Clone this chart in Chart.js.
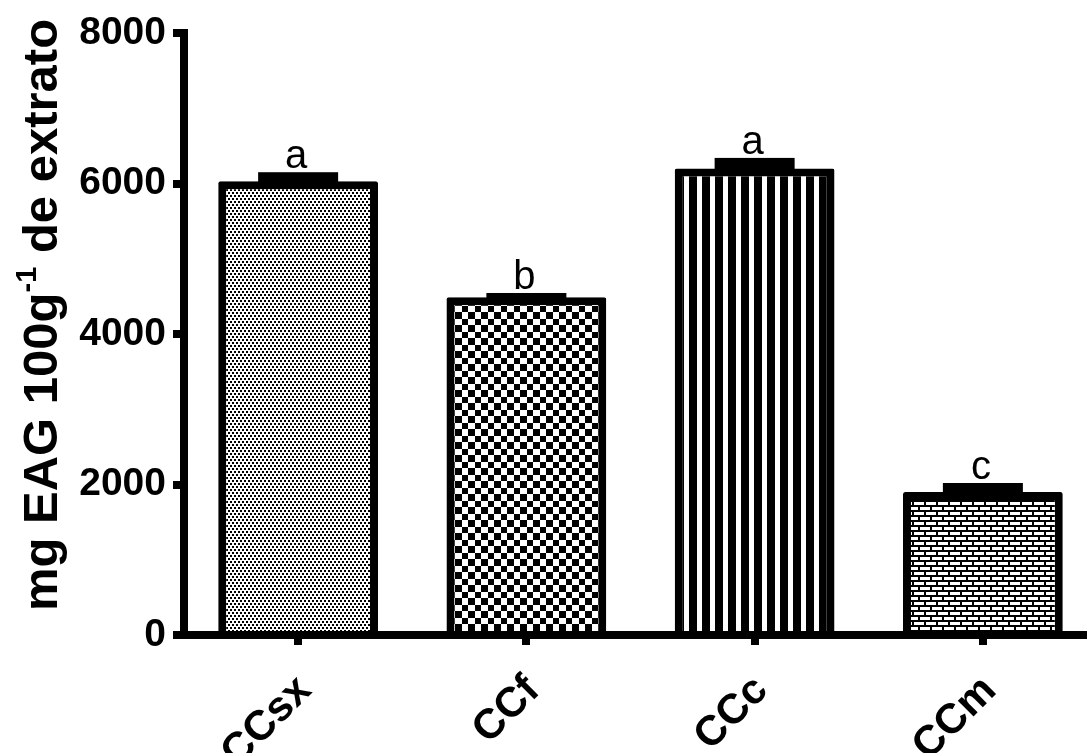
<!DOCTYPE html>
<html>
<head>
<meta charset="utf-8">
<script src="https://cdn.jsdelivr.net/npm/chart.js@4.4.0/dist/chart.umd.min.js"></script>
<style>
html, body { margin: 0; padding: 0; background: #fff; overflow: hidden; }
#wrap { width: 1097px; height: 753px; }
</style>
</head>
<body>
<div id="wrap"><canvas id="phenolChart" width="1097" height="753"></canvas></div>
<script>
// dados
const categories = ['CCsx', 'CCf', 'CCc', 'CCm'];
const meanValues = [6030, 4490, 6200, 1900];
const sdValues = [120, 55, 140, 120];
const sigLetters = ['a', 'b', 'a', 'c'];
const yTicks = [0, 2000, 4000, 6000, 8000];
const yTitleParts = ['mg EAG 100g', '-1', ' de extrato'];

const FONT = '"Liberation Sans", Arial, sans-serif';

const ctx = document.getElementById('phenolChart');
const pctx = ctx.getContext('2d');

// padroes de preenchimento das barras
function pat(w, h, draw) {
    const c = document.createElement('canvas');
    c.width = w; c.height = h;
    const g = c.getContext('2d');
    g.fillStyle = '#fff';
    g.fillRect(0, 0, w, h);
    g.fillStyle = '#000';
    draw(g);
    return pctx.createPattern(c, 'repeat');
}

const dotsFill = pat(4, 6, g => { g.fillRect(0, 0, 2, 2); g.fillRect(2, 3, 2, 2); });
const checkFill = pat(13, 13, g => { g.fillRect(0, 0, 7, 7); g.fillRect(7, 7, 6, 6); });
const stripeFill = pat(13, 1, g => { g.fillRect(0, 0, 8, 1); });
const brickFill = pat(12, 10, g => {
    g.fillRect(0, 0, 12, 2);
    g.fillRect(0, 5, 12, 2);
    g.fillRect(0, 2, 2, 3);
    g.fillRect(6, 7, 2, 3);
});

// barras de erro + letras
const errorBars = {
    id: 'errorBars',
    afterDatasetsDraw(chart) {
        const c = chart.ctx;
        const y = chart.scales.y;
        const meta = chart.getDatasetMeta(0);
        c.save();
        c.fillStyle = '#000';
        meta.data.forEach((bar, i) => {
            const top = y.getPixelForValue(meanValues[i] + sdValues[i]);
            c.fillRect(bar.x - 40, top, 80, bar.y - top + 4);
            c.font = '40px ' + FONT;
            c.textAlign = 'center';
            c.textBaseline = 'alphabetic';
            c.fillText(sigLetters[i], bar.x - 2, top - 4);
        });
        c.restore();
    }
};

// rotulos do eixo x (45 graus) e titulo do eixo y com sobrescrito
const axisText = {
    id: 'axisText',
    afterDraw(chart) {
        const c = chart.ctx;
        const x = chart.scales.x;
        c.save();
        c.fillStyle = '#000';
        c.font = 'bold 42px ' + FONT;
        c.textAlign = 'right';
        c.textBaseline = 'alphabetic';
        categories.forEach((lab, i) => {
            c.save();
            c.translate(x.getPixelForValue(i) + 15, 692);
            c.rotate(-Math.PI / 4);
            c.fillText(lab, 0, 0);
            c.restore();
        });

        c.translate(57, 315);
        c.rotate(-Math.PI / 2);
        c.textAlign = 'left';
        const big = 'bold 49px ' + FONT;
        const small = 'bold 29px ' + FONT;
        c.font = big;
        const w1 = c.measureText(yTitleParts[0]).width;
        const w3 = c.measureText(yTitleParts[2]).width;
        c.font = small;
        const w2 = c.measureText(yTitleParts[1]).width;
        let sx = -(w1 + w2 + w3) / 2;
        c.font = big;
        c.fillText(yTitleParts[0], sx, 0);
        c.font = small;
        c.fillText(yTitleParts[1], sx + w1, -21);
        c.font = big;
        c.fillText(yTitleParts[2], sx + w1 + w2, 0);
        c.restore();
    }
};

const phenolChart = new Chart(ctx, {
    type: 'bar',
    data: {
        labels: categories,
        datasets: [{
            label: '',
            data: meanValues,
            backgroundColor: [dotsFill, checkFill, stripeFill, brickFill],
            borderColor: '#000',
            borderWidth: 8,
            borderSkipped: 'start',
            borderRadius: 2,
            barPercentage: 0.70,
            categoryPercentage: 1.0
        }]
    },
    options: {
        responsive: false,
        animation: false,
        layout: {
            padding: { top: 33, left: 0, right: 0, bottom: 0 }
        },
        scales: {
            x: {
                z: 1,
                offset: true,
                grid: {
                    display: true,
                    drawOnChartArea: false,
                    drawTicks: true,
                    tickLength: 10,
                    lineWidth: 8,
                    color: '#000',
                    offset: false
                },
                border: { display: true, width: 8, color: '#000' },
                ticks: { display: false },
                afterFit: s => { s.height = 118; }
            },
            y: {
                min: 0,
                max: 8000,
                afterBuildTicks: s => { s.ticks = yTicks.map(v => ({ value: v })); },
                grid: {
                    display: true,
                    drawOnChartArea: false,
                    drawTicks: true,
                    tickLength: 11,
                    lineWidth: 8,
                    color: '#000'
                },
                border: { display: true, width: 8, color: '#000' },
                ticks: {
                    color: '#000',
                    padding: 7,
                    font: { family: FONT, size: 39, weight: 'bold' },
                    callback: v => String(v)
                },
                afterFit: s => { s.width = 184; }
            }
        },
        plugins: {
            legend: { display: false },
            tooltip: { enabled: false }
        }
    },
    plugins: [errorBars, axisText]
});
</script>
</body>
</html>
